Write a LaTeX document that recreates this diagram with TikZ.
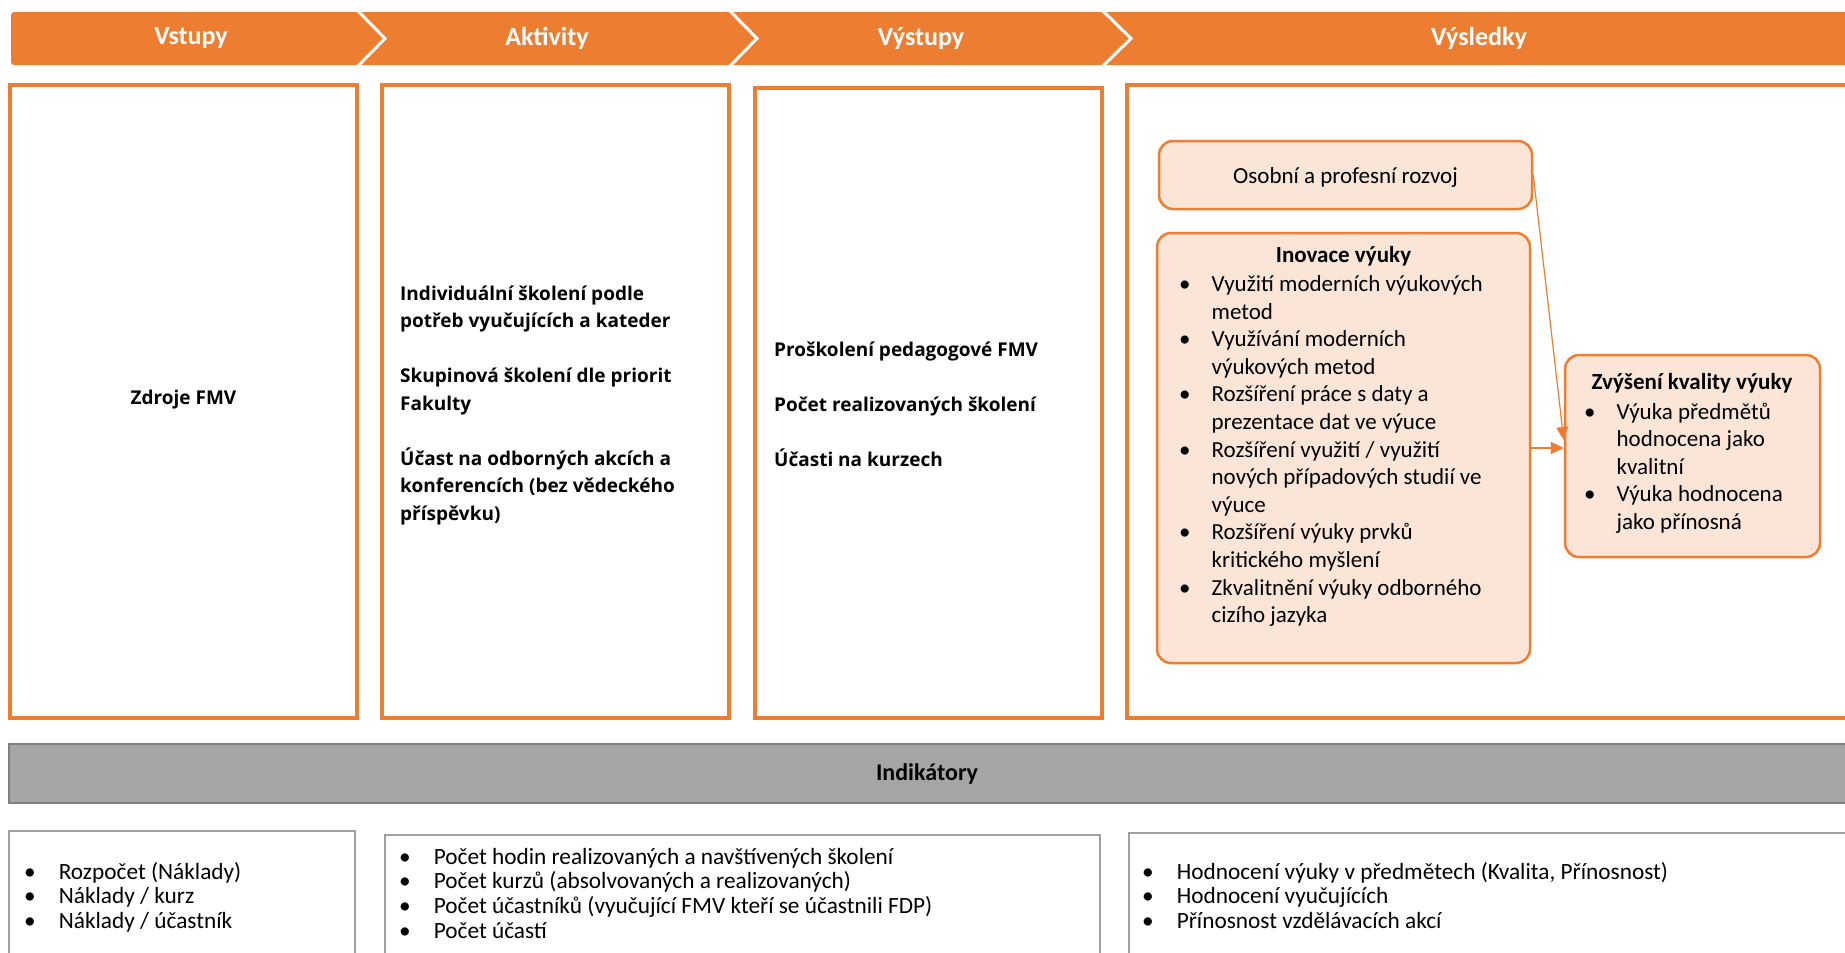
\documentclass[tikz,border=0pt]{standalone}
\usepackage{fontspec}
\setmainfont{Carlito}
\newfontfamily\segfont{Open Sans}
\usetikzlibrary{arrows.meta}
\definecolor{org}{HTML}{ED7D31}
\definecolor{peach}{HTML}{FBE5D6}
\definecolor{barg}{HTML}{A5A5A5}
\definecolor{bard}{HTML}{7F7F7F}
\definecolor{boxg}{HTML}{A0A0A0}
\newcommand\lns[1]{\begin{tabular}[t]{@{}l@{}}#1\end{tabular}}
\newcommand\blist[2]{\begin{tabular}[t]{@{}l@{\hspace{#1}}l@{}}#2\end{tabular}}
\begin{document}
\begin{tikzpicture}[x=1pt,y=-1pt,
  hdrtxt/.style={text=white,font=\fontsize{26}{30}\selectfont\bfseries,inner sep=0},
  mainbox/.style={draw=org,line width=4.5pt,fill=white,inner sep=0},
  rbox/.style={draw=org,line width=2.5pt,fill=peach,rounded corners=14pt,inner sep=0},
  indbox/.style={draw=boxg,line width=2pt,fill=white,inner sep=0},
  segtxt/.style={font=\segfont\bfseries\fontsize{19}{27.5}\selectfont,inner sep=0,anchor=base west},
  ctxt/.style={font=\fontsize{23}{27.6}\selectfont,inner sep=0},
  btxt/.style={font=\fontsize{23.3}{24.7}\selectfont,inner sep=0,anchor=base west},
  arr/.style={draw=org,-{Triangle[length=13pt,width=12pt]}}
]
\useasboundingbox (0,0) rectangle (1845,953);
\clip (0,0) rectangle (1845,953);
\fill[white] (0,0) rectangle (1845,953);

% header
\fill[org,rounded corners=3pt] (11,12) rectangle (1860,65);
\draw[white,line width=3pt] (357,10) -- (385,38.5) -- (357,67);
\draw[white,line width=3pt] (729,10) -- (757,38.5) -- (729,67);
\draw[white,line width=3pt] (1102,10) -- (1131,38.5) -- (1102,67);
\node[hdrtxt] (h1) at (191,38.5) {Vstupy};
\node[hdrtxt] (h2) at (547,38.5) {Aktivity};
\node[hdrtxt] (h3) at (921,38.5) {Výstupy};
\node[hdrtxt] (h4) at (1479,38.5) {Výsledky};

% main boxes
\node[mainbox,minimum width=347pt,minimum height=633pt] (b1) at (183.5,401.5) {};
\node[mainbox,minimum width=347pt,minimum height=633pt] (b2) at (555.5,401.5) {};
\node[mainbox,minimum width=347pt,minimum height=630pt] (b3) at (928.5,403) {};
\node[mainbox,minimum width=733pt,minimum height=633pt] (b4) at (1493.5,401.5) {};

\node[font=\segfont\bfseries\fontsize{19}{24}\selectfont,inner sep=0] (zdroje) at (183.5,400) {Zdroje FMV};

\node[segtxt] (act) at (400,300) {\lns{Individuální školení podle\\potřeb vyučujících a kateder\\ \\Skupinová školení dle priorit\\Fakulty\\ \\Účast na odborných akcích a\\konferencích (bez vědeckého\\příspěvku)}};

\node[segtxt] (out) at (774,356) {\lns{Proškolení pedagogové FMV\\ \\Počet realizovaných školení\\ \\Účasti na kurzech}};

% result boxes
\node[rbox,minimum width=373pt,minimum height=68pt] (osobni) at (1345.5,175) {};
\node[ctxt] (osobniT) at (1345.5,177) {Osobní a profesní rozvoj};
\node[rbox,minimum width=373pt,minimum height=430pt] (inov) at (1343.5,448) {};
\node[ctxt,font=\fontsize{23}{27.6}\selectfont\bfseries] (inovT) at (1343.5,256) {Inovace výuky};
\node[ctxt,anchor=base west] (inovL) at (1179,291.5) {\blist{21pt}{•&Využití moderních výukových\\
&metod\\
•&Využívání moderních\\
&výukových metod\\
•&Rozšíření práce s daty a\\
&prezentace dat ve výuce\\
•&Rozšíření využití / využití\\
&nových případových studií ve\\
&výuce\\
•&Rozšíření výuky prvků\\
&kritického myšlení\\
•&Zkvalitnění výuky odborného\\
&cizího jazyka}};
\node[rbox,minimum width=255pt,minimum height=202pt] (zvy) at (1692.5,456) {};
\node[ctxt,font=\fontsize{23}{27.6}\selectfont\bfseries] (zvyT) at (1692,383) {Zvýšení kvality výuky};
\node[ctxt,anchor=base west] (zvyL) at (1584,419) {\blist{21pt}{•&Výuka předmětů\\
&hodnocena jako\\
&kvalitní\\
•&Výuka hodnocena\\
&jako přínosná}};

\draw[arr,line width=2pt] (inov.east) -- (inov.east -| zvy.west);
\draw[arr,line width=1.2pt] (osobni.east) -- ([yshift=8pt]inov.east -| zvy.west);

% indicators
\node[draw=bard,line width=2pt,fill=barg,minimum width=1851pt,minimum height=59pt,inner sep=0] (ind) at (934.5,773.5) {};
\node[font=\fontsize{24}{28}\selectfont\bfseries,inner sep=0] (indT) at (927,773.5) {Indikátory};

\node[indbox,minimum width=346pt,minimum height=140pt] (ia) at (182,901) {};
\node[indbox,minimum width=715pt,minimum height=136pt] (ib) at (742.5,903) {};
\node[indbox,minimum width=731pt,minimum height=138pt] (ic) at (1494.5,902) {};

\node[btxt] (iaL) at (24,879) {\blist{23pt}{•&Rozpočet (Náklady)\\•&Náklady / kurz\\•&Náklady / účastník}};
\node[btxt] (ibL) at (399,864) {\blist{23pt}{•&Počet hodin realizovaných a navštívených školení\\•&Počet kurzů (absolvovaných a realizovaných)\\•&Počet účastníků (vyučující FMV kteří se účastnili FDP)\\•&Počet účastí}};
\node[btxt] (icL) at (1142,879) {\blist{23pt}{•&Hodnocení výuky v předmětech (Kvalita, Přínosnost)\\•&Hodnocení vyučujících\\•&Přínosnost vzdělávacích akcí}};
\end{tikzpicture}
\end{document}
